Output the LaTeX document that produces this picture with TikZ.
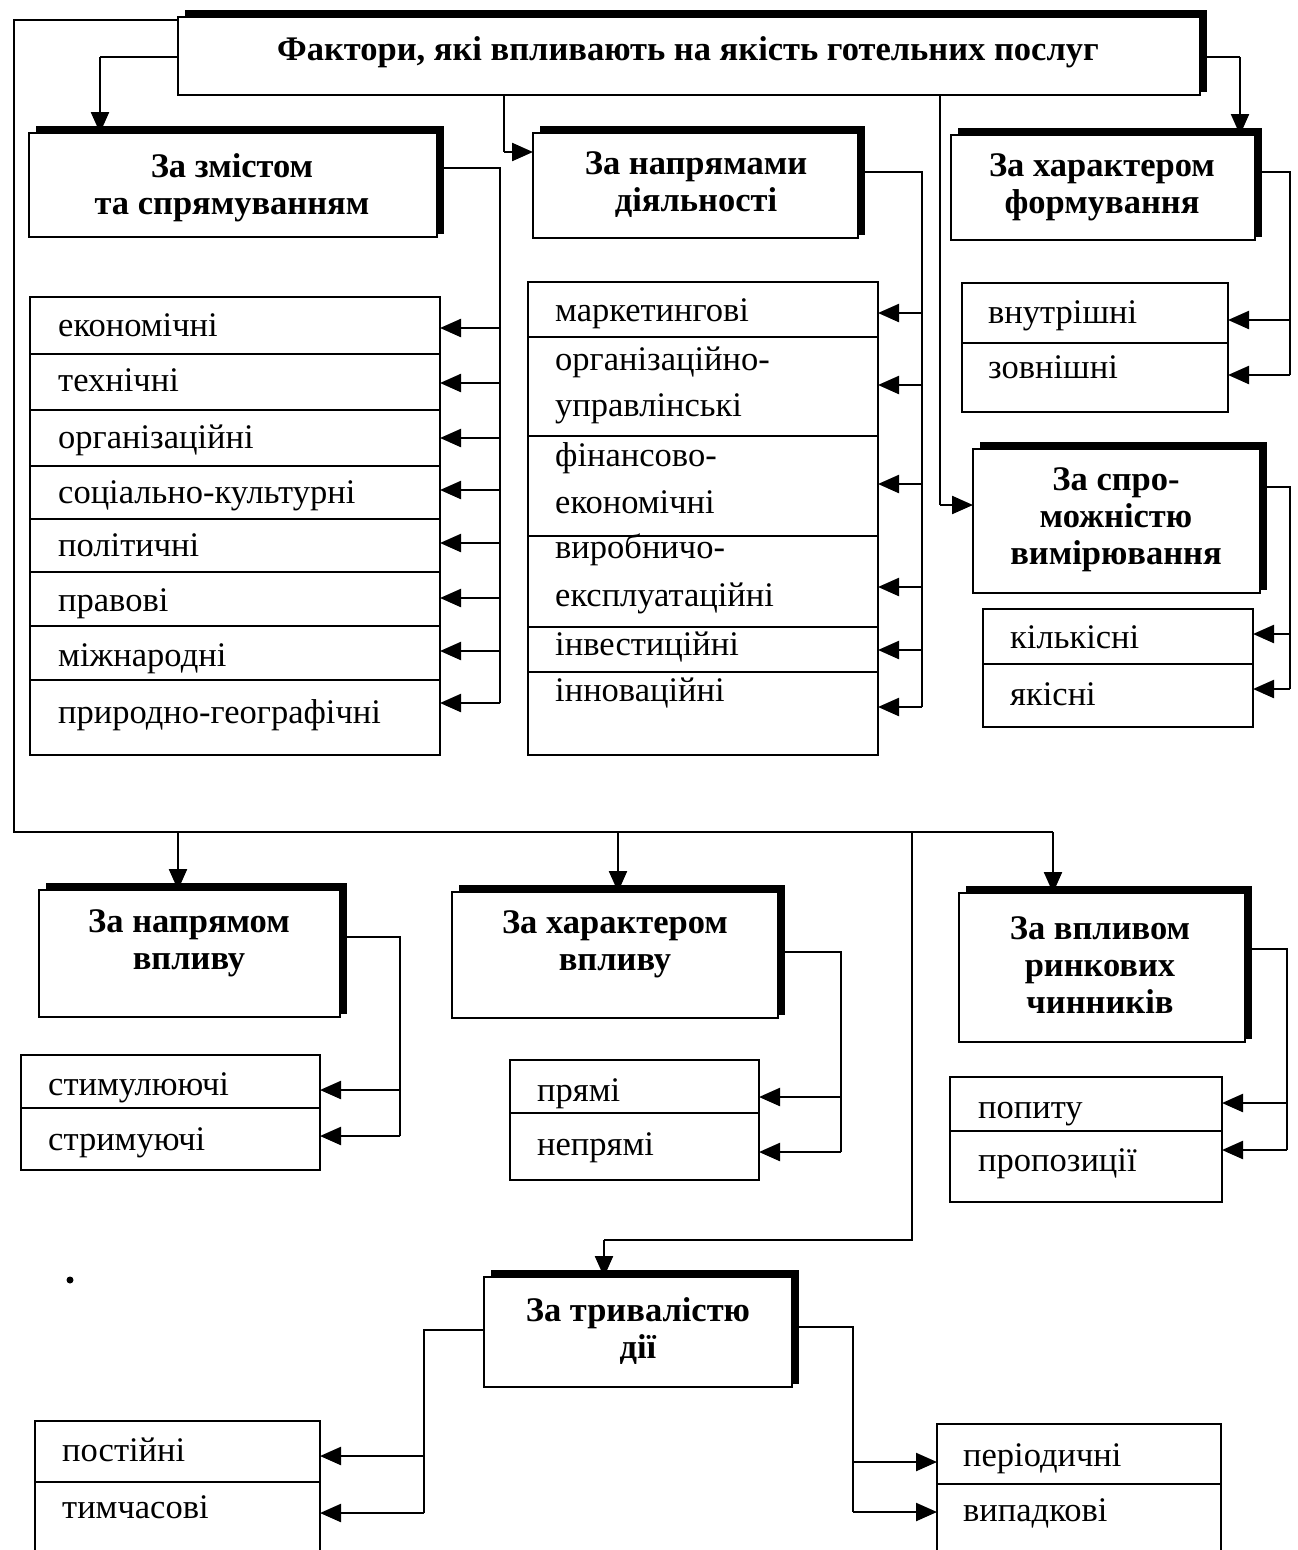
\documentclass[tikz,border=0pt]{standalone}
\usepackage{fontspec}
\setmainfont{Liberation Serif}
\usetikzlibrary{arrows.meta,calc}
\newcommand\mkhead[5]{%
  \node[boxline,anchor=north west,minimum width={#4-#2},minimum height={#5-#3}] (#1) at (#2,#3) {};
  \draw[thk] ($(#1.north west)+(7,-4)$) -- ($(#1.north east)+(4,-4)$) -- ($(#1.south east)+(4,-3)$);}
\newcommand\mklist[5]{%
  \node[boxline,anchor=north west,minimum width={#4-#2},minimum height={#5-#3}] (#1) at (#2,#3) {};}
\newcommand\dv[2]{\draw[ln] (#1.west |- 0,#2) -- (#1.east |- 0,#2);}
\begin{document}
\begin{tikzpicture}[x=1pt,y=-1pt,
  ln/.style={line width=2.3pt},
  boxline/.style={draw,line width=2.3pt,inner sep=0pt,outer sep=0pt,fill=white},
  arr/.style={line width=2.3pt,-{Triangle[length=21pt,width=18pt]}},
  thk/.style={line width=6pt,line join=miter},
  hd/.style={font=\fontsize{34.5}{37}\selectfont\bfseries,align=center,inner sep=0pt},
  it/.style={font=\fontsize{34.5}{38}\selectfont,anchor=base west,inner sep=0pt},
]
\useasboundingbox[fill=white] (0,0) rectangle (1298,1550);
\clip (0,0) rectangle (1298,1550);

% ---------- boxes ----------
\mkhead{title}{178}{17}{1200}{95}
\node[hd] (ttitle) at (688,52) {Фактори, які впливають на якість готельних послуг};

\mkhead{h1}{29}{133}{437}{237}
\node[hd] (th1) at (232,188) {За змістом\\та спрямуванням};
\mkhead{h2}{533}{133}{858}{238}
\node[hd] (th2) at (696,185) {За напрямами\\діяльності};
\mkhead{h3}{951}{135}{1255}{240}
\node[hd] (th3) at (1102,187) {За характером\\формування};
\mkhead{h4}{973}{449}{1260}{593}
\node[hd] (th4) at (1116,520) {За спро-\\можністю\\вимірювання};
\mkhead{h5}{39}{890}{340}{1017}
\node[hd] (th5) at (189,943) {За напрямом\\впливу};
\mkhead{h6}{452}{892}{778}{1018}
\node[hd] (th6) at (615,944) {За характером\\впливу};
\mkhead{h7}{959}{893}{1245}{1042}
\node[hd] (th7) at (1100,965) {За впливом\\ринкових\\чинників};
\mkhead{h8}{484}{1277}{792}{1387}
\node[hd] (th8) at (638,1331) {За тривалістю\\дії};

% ---------- lists ----------
\mklist{l1}{30}{297}{440}{755}
\dv{l1}{354}\dv{l1}{410}\dv{l1}{466}\dv{l1}{519}\dv{l1}{572}\dv{l1}{626}\dv{l1}{680}
\node[it] (a1) at (58,328+8) {економічні};
\node[it] (a2) at (58,383+8) {технічні};
\node[it] (a3) at (58,440+8) {організаційні};
\node[it] (a4) at (58,495+8) {соціально-культурні};
\node[it] (a5) at (58,548+8) {політичні};
\node[it] (a6) at (58,603+8) {правові};
\node[it] (a7) at (58,658+8) {міжнародні};
\node[it] (a8) at (58,715+8) {природно-географічні};

\mklist{l2}{528}{282}{878}{755}
\dv{l2}{337}\dv{l2}{436}\dv{l2}{536}\dv{l2}{627}\dv{l2}{672}
\node[it] (b1) at (555,313+8) {маркетингові};
\node[it] (b2) at (555,362+8) {організаційно-};
\node[it] (b3) at (555,408+8) {управлінські};
\node[it] (b4) at (555,458+8) {фінансово-};
\node[it] (b5) at (555,505+8) {економічні};
\node[it] (b6) at (555,550+8) {виробничо-};
\node[it] (b7) at (555,598+8) {експлуатаційні};
\node[it] (b8) at (555,647+8) {інвестиційні};
\node[it] (b9) at (555,693+8) {інноваційні};

\mklist{l3}{962}{283}{1228}{412}
\dv{l3}{343}
\node[it] (c1) at (988,315+8) {внутрішні};
\node[it] (c2) at (988,370+8) {зовнішні};

\mklist{l4}{983}{609}{1253}{727}
\dv{l4}{664}
\node[it] (d1) at (1010,640+8) {кількісні};
\node[it] (d2) at (1010,697+8) {якісні};

\mklist{l5}{21}{1055}{320}{1170}
\dv{l5}{1108}
\node[it] (e1) at (48,1087+8) {стимулюючі};
\node[it] (e2) at (48,1142+8) {стримуючі};

\mklist{l6}{510}{1060}{759}{1180}
\dv{l6}{1113}
\node[it] (f1) at (537,1093+8) {прямі};
\node[it] (f2) at (537,1147+8) {непрямі};

\mklist{l7}{950}{1077}{1222}{1202}
\dv{l7}{1131}
\node[it] (g1) at (978,1110+8) {попиту};
\node[it] (g2) at (978,1163+8) {пропозиції};

\mklist{l8}{35}{1421}{320}{1570}
\dv{l8}{1482}
\node[it] (k1) at (62,1453+8) {постійні};
\node[it] (k2) at (62,1510+8) {тимчасові};

\mklist{l9}{937}{1424}{1221}{1570}
\dv{l9}{1484}
\node[it] (m1) at (963,1458+8) {періодичні};
\node[it] (m2) at (963,1513+8) {випадкові};

% ---------- connectors from title ----------
\coordinate (busL) at (14,832);
\draw[ln] (title.west |- 0,20) -- (14,20) -- (busL) -- (1053,832);
\draw[arr] (178,832) -- (h5.north -| 178,0);
\draw[arr] (618,832) -- (h6.north -| 618,0);
\draw[arr] (1053,832) -- (h7.north -| 1053,0);
\draw[ln] (912,832) -- (912,1240) -- (604,1240);
\draw[arr] (604,1240) -- (h8.north -| 604,0);

\draw[ln] (title.west |- 0,57) -- (100,57);
\draw[arr] (100,57) -- (h1.north -| 100,0);
\draw[ln] (title.south -| 504,0) -- (504,152);
\draw[arr] (504,152) -- (h2.west |- 0,152);
\draw[ln] (title.south -| 940,0) -- (940,505);
\draw[arr] (940,505) -- (h4.west |- 0,505);
\draw[ln] (title.east |- 0,57) -- (1240,57);
\draw[arr] (1240,57) -- (h3.north -| 1240,0);

% ---------- connectors to lists ----------
\draw[ln] (h1.east |- 0,168) -- (500,168) -- (500,703);
\foreach \yy in {328,383,438,490,543,598,651,703}
  \draw[arr] (500,\yy) -- (l1.east |- 0,\yy);

\draw[ln] (h2.east |- 0,172) -- (922,172) -- (922,707);
\foreach \yy in {313,385,484,587,650,707}
  \draw[arr] (922,\yy) -- (l2.east |- 0,\yy);

\draw[ln] (h3.east |- 0,172) -- (1290,172) -- (1290,375);
\foreach \yy in {320,375}
  \draw[arr] (1290,\yy) -- (l3.east |- 0,\yy);

\draw[ln] (h4.east |- 0,487) -- (1290,487) -- (1290,689);
\foreach \yy in {634,689}
  \draw[arr] (1290,\yy) -- (l4.east |- 0,\yy);

\draw[ln] (h5.east |- 0,937) -- (400,937) -- (400,1136);
\foreach \yy in {1090,1136}
  \draw[arr] (400,\yy) -- (l5.east |- 0,\yy);

\draw[ln] (h6.east |- 0,952) -- (841,952) -- (841,1152);
\foreach \yy in {1097,1152}
  \draw[arr] (841,\yy) -- (l6.east |- 0,\yy);

\draw[ln] (h7.east |- 0,949) -- (1287,949) -- (1287,1150);
\foreach \yy in {1103,1150}
  \draw[arr] (1287,\yy) -- (l7.east |- 0,\yy);

\draw[ln] (h8.west |- 0,1330) -- (424,1330) -- (424,1513);
\foreach \yy in {1456,1513}
  \draw[arr] (424,\yy) -- (l8.east |- 0,\yy);

\draw[ln] (h8.east |- 0,1327) -- (853,1327) -- (853,1512);
\foreach \yy in {1462,1512}
  \draw[arr] (853,\yy) -- (l9.west |- 0,\yy);

% scan speck
\fill (70,1280) circle (3.5);
\end{tikzpicture}
\end{document}
